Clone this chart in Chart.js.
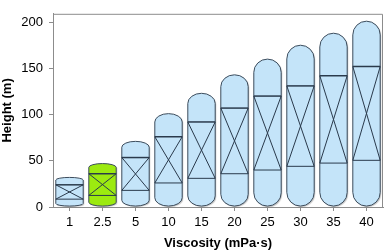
<!DOCTYPE html>
<html>
<head>
<meta charset="utf-8">
<script src="https://cdn.jsdelivr.net/npm/chart.js@4"></script>
<style>
html, body { margin: 0; padding: 0; background: #fff; }
#wrap { width: 384px; height: 252px; }
</style>
</head>
<body>
<div id="wrap"><canvas id="chart" width="384" height="252"></canvas></div>
<script>
const labels = ['1', '2.5', '5', '10', '15', '20', '25', '30', '35', '40'];
// capsule top (m)
const heights = [32, 47, 71, 101, 123, 143, 160, 175, 188, 201];
// capsule bottom (m)
const bottoms = [1, 1, 1, 1, 1, 1, 1, 1, 1, 1];
// the two horizontal lines of the X box
const upperLine = [24, 36, 53.5, 76, 92, 107, 120, 131, 142, 152];
const lowerLine = [8.5, 12.5, 18, 26, 31, 36, 40, 44, 47.5, 50.5];
const yTicks = [0, 50, 100, 150, 200];

const FONT = 'Liberation Sans, Arial, sans-serif';
const blue = '#c4e4f9';
const green = '#9cea10';
const edge = '#3c4c5c';
const axisGray = '#8c8c8c';

const capsules = {
	id: 'capsules',
	afterDatasetsDraw(chart) {
		const ctx = chart.ctx;
		const yScale = chart.scales.y;
		const meta = chart.getDatasetMeta(0);
		meta.data.forEach((bar, i) => {
			const {x, y, base, width} = bar.getProps(['x', 'y', 'base', 'width'], true);
			const l = x - width / 2;
			const r = x + width / 2;
			const rx = width / 2;
			const cap = Math.min(rx, (base - y) * 0.09);
			ctx.save();
			ctx.beginPath();
			ctx.moveTo(l, y + cap);
			ctx.ellipse(x, y + cap, rx, cap, 0, Math.PI, 0);
			ctx.lineTo(r, base - cap);
			ctx.ellipse(x, base - cap, rx, cap, 0, 0, Math.PI);
			ctx.closePath();
			ctx.fillStyle = i === 1 ? green : blue;
			ctx.shadowColor = 'rgba(0,0,0,0.25)';
			ctx.shadowOffsetX = 1;
			ctx.shadowOffsetY = 1;
			ctx.shadowBlur = 1;
			ctx.fill();
			ctx.shadowColor = 'transparent';
			ctx.lineWidth = 1;
			ctx.strokeStyle = edge;
			ctx.stroke();
			const yu = yScale.getPixelForValue(upperLine[i]);
			const yl = yScale.getPixelForValue(lowerLine[i]);
			ctx.strokeStyle = '#2a3a4c';
			ctx.beginPath();
			ctx.moveTo(l, yu); ctx.lineTo(r, yl);
			ctx.moveTo(r, yu); ctx.lineTo(l, yl);
			ctx.moveTo(l, yl); ctx.lineTo(r, yl);
			ctx.stroke();
			ctx.lineWidth = 1.5;
			ctx.beginPath();
			ctx.moveTo(l, yu); ctx.lineTo(r, yu);
			ctx.stroke();
			ctx.restore();
		});
	}
};

const frame = {
	id: 'frame',
	afterDraw(chart) {
		const {ctx, chartArea: a} = chart;
		ctx.save();
		ctx.strokeStyle = axisGray;
		ctx.lineWidth = 1;
		ctx.beginPath();
		ctx.moveTo(a.left, a.top + 0.5);
		ctx.lineTo(a.right - 0.5, a.top + 0.5);
		ctx.lineTo(a.right - 0.5, a.bottom);
		ctx.stroke();
		ctx.restore();
	}
};

new Chart(document.getElementById('chart'), {
	type: 'bar',
	data: {
		labels,
		datasets: [{
			data: labels.map((_, i) => [bottoms[i], heights[i]]),
			backgroundColor: 'rgba(0,0,0,0)',
			borderWidth: 0,
			categoryPercentage: 1,
			barPercentage: 0.83,
		}]
	},
	options: {
		responsive: false,
		animation: false,
		layout: {padding: {top: 2, right: 1, left: 0, bottom: 0}},
		plugins: {
			legend: {display: false},
			tooltip: {enabled: false},
		},
		scales: {
			x: {
				grid: {display: true, offset: false, drawOnChartArea: false, tickLength: 4, color: axisGray},
				border: {color: axisGray},
				ticks: {color: '#000', font: {family: FONT, size: 13}, padding: 4},
				title: {
					display: true,
					text: 'Viscosity (mPa·s)',
					color: '#000',
					font: {family: FONT, size: 13, weight: 'bold'},
					padding: {top: 0, bottom: 1},
				},
				afterFit: (s) => { s.height = 45; },
			},
			y: {
				min: 0,
				max: 209,
				afterBuildTicks: (s) => { s.ticks = yTicks.map((v) => ({value: v})); },
				grid: {display: true, drawOnChartArea: false, tickLength: 4, color: axisGray},
				border: {color: axisGray},
				ticks: {color: '#000', font: {family: FONT, size: 13}, padding: 6},
				title: {
					display: true,
					text: 'Height (m)',
					color: '#000',
					font: {family: FONT, size: 13, weight: 'bold'},
					padding: {top: 0, bottom: 0},
				},
				afterFit: (s) => { s.width = 53; },
			}
		}
	},
	plugins: [capsules, frame],
});
</script>
</body>
</html>
